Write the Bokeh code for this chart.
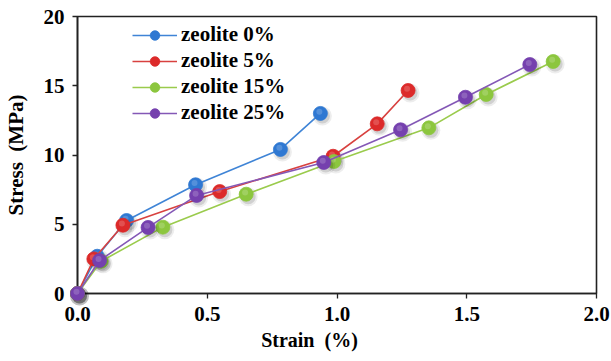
from bokeh.plotting import figure
from bokeh.models import Range1d, Legend, LegendItem, FixedTicker
from bokeh.embed import file_html
from bokeh.resources import INLINE

# Stress-strain data for each zeolite content
strain_0 = [0, 0.076, 0.189, 0.455, 0.782, 0.936]
stress_0 = [0, 2.69, 5.27, 7.85, 10.4, 13.0]
strain_5 = [0, 0.063, 0.175, 0.548, 0.985, 1.155, 1.274]
stress_5 = [0, 2.5, 4.93, 7.36, 9.91, 12.25, 14.66]
strain_15 = [0, 0.091, 0.329, 0.65, 0.988, 1.354, 1.575, 1.833]
stress_15 = [0, 2.33, 4.79, 7.17, 9.53, 11.96, 14.37, 16.75]
strain_25 = [0, 0.085, 0.272, 0.459, 0.949, 1.245, 1.495, 1.743]
stress_25 = [0, 2.38, 4.77, 7.08, 9.46, 11.82, 14.17, 16.53]

labels = ["zeolite 0%", "zeolite 5%", "zeolite 15%", "zeolite 25%"]
x_ticks = [0.0, 0.5, 1.0, 1.5, 2.0]
y_ticks = [0, 5, 10, 15, 20]

series = [
    (strain_0, stress_0, "#2f78d2", "#3f84d6"),
    (strain_5, stress_5, "#dc2a2a", "#d8413f"),
    (strain_15, stress_15, "#8cc63e", "#9acb4c"),
    (strain_25, stress_25, "#7540ae", "#8458b6"),
]

FONT = "Liberation Serif"
NB = "\u00a0"

p = figure(width=611, height=361, output_backend="svg", toolbar_location=None,
           x_range=Range1d(0, 2.0), y_range=Range1d(0, 20),
           min_border_left=77, min_border_right=15, min_border_top=16,
           min_border_bottom=68)
p.xgrid.visible = False
p.ygrid.visible = False
p.outline_line_color = "#222222"
p.outline_line_width = 1.6
p.background_fill_color = "white"
p.border_fill_color = "white"

for ax in (p.xaxis[0], p.yaxis[0]):
    ax.axis_line_color = "#222222"
    ax.axis_line_width = 1.6
    ax.major_tick_line_color = "#222222"
    ax.major_tick_line_width = 1.3
    ax.major_tick_out = 5
    ax.major_tick_in = 0
    ax.minor_tick_line_color = None
    ax.major_label_text_font = FONT
    ax.major_label_text_font_style = "bold"
    ax.major_label_text_font_size = "21px"
    ax.major_label_text_color = "black"
    ax.axis_label_text_font = FONT
    ax.axis_label_text_font_style = "bold"
    ax.axis_label_text_color = "black"

p.xaxis.ticker = FixedTicker(ticks=x_ticks)
p.yaxis.ticker = FixedTicker(ticks=y_ticks)
p.xaxis.major_label_overrides = {t: f"{t:.1f}" for t in x_ticks}
# trailing blanks nudge the centred x title a little to the left
p.xaxis.axis_label = "Strain" + NB * 2 + "(%)" + NB * 11
p.yaxis.axis_label = "Stress" + NB * 2 + "(MPa)"
p.xaxis.axis_label_text_font_size = "20px"
p.yaxis.axis_label_text_font_size = "21px"
p.xaxis.major_label_standoff = 8
p.yaxis.major_label_standoff = 8
p.xaxis.axis_label_standoff = 5
p.yaxis.axis_label_standoff = 13

# soft drop shadows under the markers (offset a couple of pixels down-right)
dx = 2.0 * (2.0 / 519)
dy = -2.5 * (20 / 277)
items = []
for (xs, ys, mc, lc), lab in zip(series, labels):
    sx = [x + dx for x in xs]
    sy = [y + dy for y in ys]
    p.scatter(sx, sy, size=19, fill_color="#000000", fill_alpha=0.07,
              line_color=None, level="overlay")
    p.scatter(sx, sy, size=15, fill_color="#000000", fill_alpha=0.12,
              line_color=None, level="overlay")
    ln = p.line(xs, ys, line_color=lc, line_width=1.6, level="overlay")
    sc = p.scatter(xs, ys, size=14, fill_color=mc, line_color=mc,
                   line_width=0.8, level="overlay")
    p.scatter([x - 0.004 for x in xs], [y + 0.12 for y in ys], size=6,
              fill_color="white", fill_alpha=0.18, line_color=None,
              level="overlay")
    items.append(LegendItem(label=lab, renderers=[ln, sc]))

legend = Legend(items=items, location=(55, 168), orientation="vertical",
                label_text_font=FONT, label_text_font_style="bold",
                label_text_font_size="21px", label_text_color="black",
                glyph_width=45, glyph_height=24, label_height=24,
                label_standoff=4, spacing=1, padding=0, margin=0,
                background_fill_alpha=0, border_line_color=None)
p.add_layout(legend)

open("out.html", "w").write(file_html(p, INLINE))
